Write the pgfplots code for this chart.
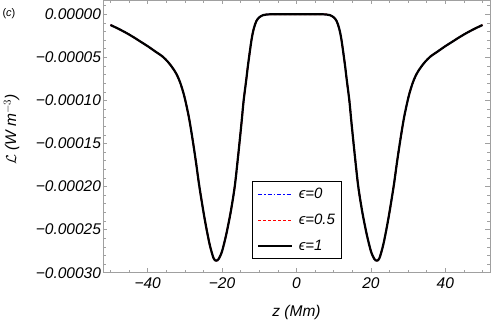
\documentclass[border=0pt]{standalone}
\usepackage{fontspec}
\setmainfont{Liberation Sans}
\usepackage{pgfplots}
\usepackage{pgfplotstable}
\pgfplotsset{compat=1.18}
\pgfplotstableread{
z L
-50 -1.24e-5
-48 -1.65e-5
-46 -2.1e-5
-44 -2.6e-5
-42 -3.15e-5
-40 -3.7e-5
-38 -4.3e-5
-36 -4.9e-5
-34.6 -5.5e-5
-33.5 -6.1e-5
-32.3 -6.9e-5
-31.2 -8.0e-5
-30.1 -9.6e-5
-28.9 -1.2e-4
-27.9 -1.46e-4
-27 -1.72e-4
-26.1 -2.0e-4
-24.7 -2.37e-4
-23.4 -2.66e-4
-22.3 -2.83e-4
-21.6 -2.86e-4
-20.9 -2.84e-4
-20 -2.75e-4
-18.9 -2.56e-4
-17.7 -2.3e-4
-16.6 -2.0e-4
-15.7 -1.65e-4
-14.8 -1.27e-4
-14.2 -1.0e-4
-13.5 -7.6e-5
-13 -5.8e-5
-12.1 -3.0e-5
-11.5 -1.7e-5
-10.8 -8e-6
-10 -3.5e-6
-9 -1e-6
-8 -0.2e-6
-6 0
0 0
6 0
8 -0.2e-6
9 -1e-6
10 -3.5e-6
10.8 -8e-6
11.5 -1.7e-5
12.1 -3.0e-5
13 -5.8e-5
13.5 -7.6e-5
14.2 -1.0e-4
14.8 -1.27e-4
15.7 -1.65e-4
16.6 -2.0e-4
17.7 -2.3e-4
18.9 -2.56e-4
20 -2.75e-4
20.9 -2.84e-4
21.6 -2.86e-4
22.3 -2.83e-4
23.4 -2.66e-4
24.7 -2.37e-4
26.1 -2.0e-4
27 -1.72e-4
27.9 -1.46e-4
28.9 -1.2e-4
30.1 -9.6e-5
31.2 -8.0e-5
32.3 -6.9e-5
33.5 -6.1e-5
34.6 -5.5e-5
36 -4.9e-5
38 -4.3e-5
40 -3.7e-5
42 -3.15e-5
44 -2.6e-5
46 -2.1e-5
48 -1.65e-5
50 -1.24e-5
}\datatable
\definecolor{framegray}{RGB}{160,160,160}
\begin{document}
\begin{tikzpicture}
\path[use as bounding box] (-103pt,-54.3pt) rectangle (388pt,272.7pt);
\begin{axis}[
  scale only axis,
  width=387pt, height=272.7pt,
  xmin=-52, xmax=52,
  ymin=-0.0003, ymax=0.0000166,
  axis line style={framegray, line width=0.6pt},
  tick style={framegray, line width=0.6pt},
  tick align=inside,
  major tick length=4.5pt,
  minor tick length=2.7pt,
  xtick={-40,-20,0,20,40},
  xticklabels={−40,−20,0,20,40},
  minor xtick={-50,-45,...,50},
  ytick={-0.0003,-0.00025,-0.0002,-0.00015,-0.0001,-0.00005,0},
  yticklabels={−0.00030,−0.00025,−0.00020,−0.00015,−0.00010,−0.00005,0.00000},
  minor ytick={-0.00029,-0.00028,...,0.00001},
  scaled y ticks=false,
  ticklabel style={font=\fontsize{15.5}{18}\selectfont\itshape, black},
  yticklabel style={xshift=1.5pt},
  xticklabel style={yshift=-1pt},
  xlabel={z (Mm)},
  ylabel={$\mathcal{L}$ (W m$^{-3}$)},
  every axis x label/.style={at={(axis description cs:0.5,0)}, anchor=center, yshift=-40pt, font=\fontsize{15.5}{18}\selectfont\itshape},
  every axis y label/.style={at={(axis description cs:-0.236,0.525)}, anchor=center, rotate=90, font=\fontsize{15.5}{18}\selectfont\itshape},
  legend style={at={(axis description cs:0.384,0.0502)}, anchor=south west,
    draw=black, line width=0.9pt, inner xsep=5pt, inner ysep=5pt,
    font=\fontsize{15}{17}\selectfont\itshape, row sep=11pt,
    nodes={inner sep=1.5pt}},
  legend cell align=left,
  legend image code/.code={\draw[#1] (0pt,0pt) -- (34pt,0pt);},
]
\addplot[color={rgb,1:red,0;green,0;blue,1}, line width=1.3pt, dash pattern=on 4pt off 2pt on 1.5pt off 2pt, smooth] table[x=z,y=L] {\datatable};
\addlegendentry{\hspace{4pt}ϵ=0}
\addplot[color={rgb,1:red,1;green,0;blue,0}, line width=1.5pt, dash pattern=on 3pt off 2pt, smooth] table[x=z,y=L] {\datatable};
\addlegendentry{\hspace{4pt}ϵ=0.5}
\addplot[black, line width=2.2pt, smooth] table[x=z,y=L] {\datatable};
\addlegendentry{\hspace{4pt}ϵ=1}
\end{axis}
\node[font=\fontsize{11}{13}\selectfont] at (-94pt,258.7pt) {(\textit{c})};
\end{tikzpicture}
\end{document}
